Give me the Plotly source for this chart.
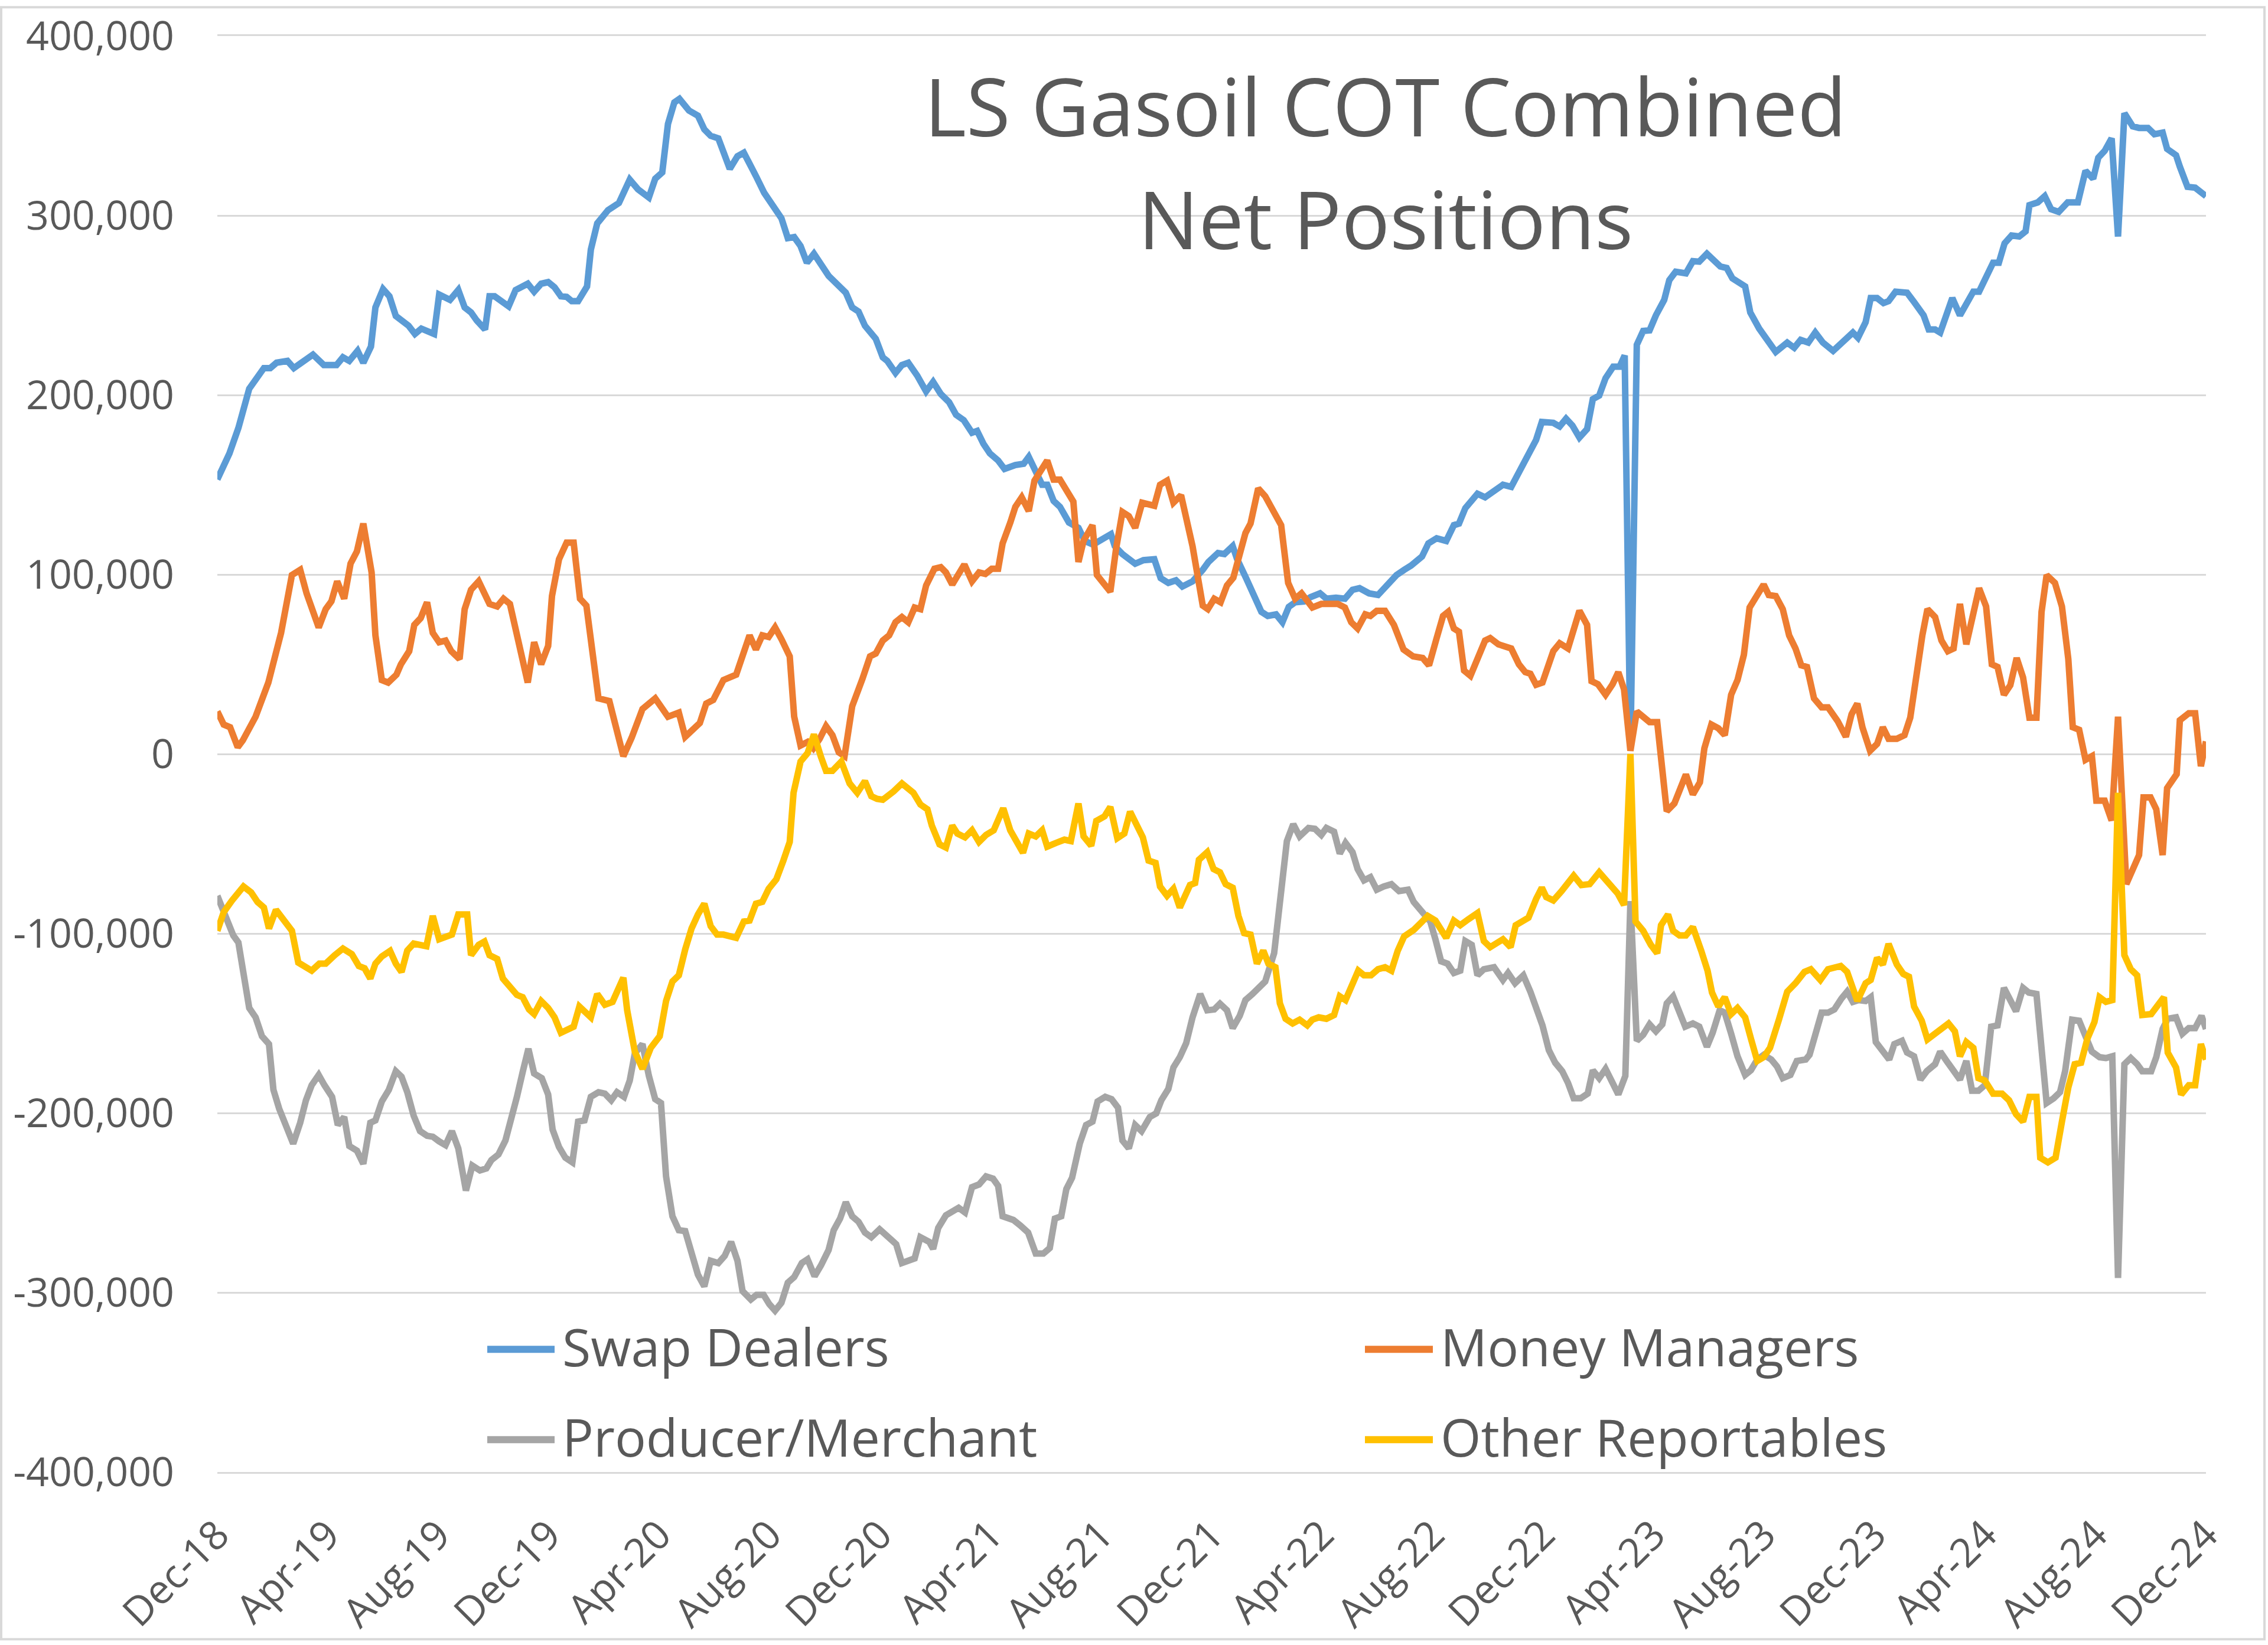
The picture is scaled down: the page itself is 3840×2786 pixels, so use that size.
import numpy as np
import plotly.graph_objects as go

# ---------------- data (weeks since first report, net positions in thousands of lots) -------------
SD_WEEK = [0, 1.9, 3.3, 5.0, 7.3, 8.3, 9.3, 11.0, 12.0, 13.7, 15.0, 16.7, 18.7, 19.7, 20.7, 22.0, 22.9, 24.1, 24.8, 26.0,
           27.0, 28.0, 30.0, 31.0, 32.0, 34.0, 34.8, 36.5, 37.8, 38.8, 39.8, 40.7, 42.0, 42.7, 43.5, 45.7, 46.8, 48.7, 49.7, 50.8,
           51.9, 52.9, 53.9, 54.8, 55.6, 56.6, 58.0, 58.6, 59.6, 61.3, 63.0, 64.7, 66.0, 67.7, 68.7, 69.8, 70.7, 71.7, 72.5, 74.0,
           75.4, 76.4, 77.4, 78.6, 80.4, 81.6, 82.6, 84.5, 85.8, 88.5, 89.5, 90.5, 91.5, 92.5, 93.6, 95.9, 97.2, 98.6, 99.6, 100.6,
           101.6, 103.3, 104.4, 105.1, 106.4, 107.4, 108.4, 109.8, 111.2, 112.3, 113.5, 114.8, 115.9, 117.1, 118.4, 119.2, 120.2, 121.2, 122.5, 123.5,
           125.2, 126.5, 127.3, 128.5, 129.4, 130.2, 131.2, 132.2, 133.6, 135.1, 136.1, 137.4, 138.7, 140.2, 140.8, 142.0, 144.0, 145.3, 147.0, 148.0,
           149.2, 150.4, 151.4, 153.0, 154.6, 155.5, 157.0, 158.0, 159.3, 160.0, 161.4, 162.8, 163.8, 164.8, 166.1, 167.1, 168.1, 169.1, 170.5, 171.5,
           173.0, 174.0, 175.5, 176.9, 178.1, 179.2, 180.7, 182.1, 183.6, 185.0, 186.2, 187.3, 189.0, 190.0, 191.3, 192.8, 194.0, 194.8, 195.8, 197.7,
           198.9, 200.3, 201.7, 203.0, 204.0, 205.7, 206.9, 207.8, 209.6, 210.6, 211.6, 212.6, 213.7, 214.9, 215.8, 216.8, 217.8, 219.0, 220.0, 220.8,
           221.7, 222.7, 223.7, 224.7, 225.7, 227.0, 227.8, 228.8, 230.4, 231.5, 232.5, 233.7, 234.8, 235.8, 236.8, 237.7, 239.7, 240.5, 241.9, 243.2,
           244.5, 246.3, 247.4, 248.4, 249.6, 250.7, 251.9, 253.5, 255.0, 256.6, 257.4, 258.6, 259.4, 260.4, 261.4, 262.2, 263.3, 265.1, 266.2, 267.7,
           268.5, 269.5, 270.3, 271.2, 272.2, 273.4, 274.6, 275.5, 276.4, 277.6, 278.6, 279.5, 280.4, 281.5, 282.7, 283.7, 284.3, 285.6, 286.7, 287.7,
           288.9, 290.3, 291.9, 293.1, 294.3, 295.1, 296.1, 297.2, 298.2, 299.2, 300.5, 301.5, 302.9, 303.9, 305.2, 305.9, 307.3, 307.9, 309.1, 310.3,
           311.3, 312.0]
SD_VAL = [153, 167.5, 181.6, 203.5, 215, 215, 218, 219, 215, 219, 222.5, 216.7, 216.7, 221, 219, 224.6, 218, 227, 248.8, 259,
          255, 244, 238.6, 234, 237, 234, 256, 253, 258.5, 248.8, 246, 241.5, 236.5, 255, 255, 249.4, 258.5, 262, 257.6, 262,
          262.9, 260, 255, 254.7, 252.3, 252.3, 260.5, 281, 295.6, 303, 307, 320, 314.6, 310, 320.5, 324, 351, 363, 365, 358.5,
          355.6, 348, 344.4, 343, 326, 333, 335, 322, 312.6, 298.5, 287.4, 288, 283, 273.7, 278.7, 266.4, 262, 257, 248.8, 246.5,
          238.6, 231.3, 221, 219, 212.3, 216.7, 218, 210.8, 202, 207.3, 200.6, 196, 189, 186, 179, 180, 172.8, 167.5, 163.5, 158.8,
          161, 161.7, 165.5, 156.7, 150, 150, 141, 137.7, 129, 126, 118.7, 116.7, 119.6, 122.5, 115.8, 111.4, 106, 108, 108.5, 98,
          95.3, 96.8, 93.3, 96.2, 102.6, 107, 112, 111.4, 115.8, 108.5, 98, 88, 79.2, 76.9, 77.8, 73.4, 82, 84.5, 85, 87.4,
          89.5, 86.5, 87.1, 86.5, 91.5, 92.4, 89.5, 88.6, 93.9, 99.7, 102.6, 105, 110, 117.3, 120.2, 118.7, 127.5, 128.4, 137, 145,
          143, 146, 150, 148.8, 155.3, 165.5, 175, 185, 184.5, 182.5, 186.8, 183, 176.3, 181, 197.7, 199.7, 209.4, 215.8, 215.8, 222,
          2, 228, 235.7, 236, 244.4, 253, 264, 268.7, 267.8, 274.6, 274.3, 278.7, 275, 271.6, 270.8, 265, 260.5, 246, 237, 229.8,
          224, 229.2, 226.3, 230.7, 229.2, 234.8, 229.2, 224.6, 229.2, 234.8, 231.9, 240.6, 254, 254, 251.2, 252.3, 257.6, 257, 251.8, 244.4,
          236.5, 236.5, 234.8, 244.4, 254, 244.4, 251.2, 257.6, 257.6, 266.4, 273.7, 273.7, 284.5, 288.9, 288.3, 291.2, 305.8, 307.3, 310.8, 303.5,
          302, 307.3, 307.3, 324.9, 320.5, 332.2, 336, 343, 288.3, 357, 349.7, 348.8, 348.8, 345.3, 346.2, 337.1, 333.6, 327.2, 316, 315.5,
          313.2, 310.8]

MM_WEEK = [0, 1.0, 2.0, 3.2, 4.0, 6.0, 8.0, 10.0, 11.7, 13.0, 14.0, 15.9, 17.0, 17.9, 18.8, 19.9, 20.9, 21.9, 22.9, 24.2,
           24.8, 25.8, 26.8, 28.1, 28.8, 30.1, 30.9, 31.9, 32.9, 33.8, 34.8, 35.8, 36.7, 38.0, 38.8, 39.8, 41.0, 41.9, 42.7, 43.9,
           44.9, 45.9, 47.2, 48.7, 49.7, 50.8, 51.9, 52.5, 53.6, 54.8, 55.9, 56.9, 57.9, 58.8, 59.8, 61.5, 62.6, 63.7, 65.0, 66.7,
           68.7, 69.6, 70.7, 72.4, 73.4, 75.7, 76.7, 77.8, 79.4, 81.4, 82.4, 83.5, 84.5, 85.5, 86.5, 87.5, 88.5, 89.8, 90.5, 91.5,
           92.6, 93.5, 94.5, 95.5, 96.5, 97.5, 98.4, 99.6, 101.2, 102.4, 103.3, 104.4, 105.4, 106.4, 107.4, 108.4, 109.4, 110.3, 111.2, 112.5,
           113.5, 114.3, 115.3, 117.2, 118.4, 119.5, 120.5, 121.5, 122.5, 123.2, 124.4, 125.2, 126.2, 127.3, 128.2, 129.2, 130.2, 131.2, 132.2, 134.3,
           134.6, 135.1, 135.9, 137.3, 138.0, 140.1, 141.0, 142.0, 143.0, 144.0, 145.1, 147.0, 147.9, 149.0, 150.0, 151.2, 153.0, 153.9, 154.6, 155.4,
           156.4, 157.4, 158.4, 159.4, 160.4, 161.3, 162.1, 163.3, 164.4, 165.8, 166.9, 168.0, 169.1, 170.1, 171.8, 173.2, 175.8, 176.9, 177.9, 178.9,
           180.1, 180.9, 181.9, 183.2, 184.6, 186.1, 187.6, 189.1, 190.1, 191.3, 192.3, 193.1, 194.0, 194.8, 195.6, 196.6, 198.0, 198.9, 199.7, 201.0,
           203.0, 204.2, 205.2, 206.0, 206.9, 207.9, 209.6, 210.6, 211.9, 212.9, 213.7, 214.9, 215.6, 216.6, 217.8, 218.9, 219.8, 220.7, 221.7, 222.7,
           223.8, 224.7, 225.9, 226.5, 227.4, 228.6, 230.4, 231.5, 232.6, 233.3, 234.4, 235.5, 236.5, 237.5, 238.5, 239.5, 240.4, 242.6, 243.4, 244.5,
           245.6, 246.6, 247.6, 248.5, 249.4, 250.5, 251.7, 252.7, 254.2, 255.5, 256.4, 257.3, 258.1, 259.3, 260.4, 261.3, 262.2, 263.5, 264.7, 265.6,
           266.5, 267.5, 268.3, 269.5, 270.5, 271.5, 272.4, 273.4, 274.4, 275.6, 276.4, 277.5, 278.4, 279.3, 280.3, 281.3, 282.3, 283.3, 284.3, 285.4,
           286.2, 287.0, 288.3, 289.4, 290.4, 291.1, 292.1, 293.1, 294.1, 294.8, 296.1, 297.2, 298.2, 299.5, 300.5, 301.5, 302.2, 303.3, 304.2, 305.2,
           305.9, 307.4, 307.9, 309.3, 310.3, 311.2, 312.0]
MM_VAL = [23.7, 16.4, 14.9, 3.8, 7.6, 20.8, 39.8, 67.5, 99.7, 102.6, 89.5, 70.5, 80.7, 85.1, 96.2, 86.5, 106.1, 112.9, 128.4, 101.2,
          66.1, 41.2, 39.8, 44.2, 50, 57.3, 71.9, 75.7, 84.5, 67.5, 62.3, 63.2, 57.3, 52.9, 80.7, 91.5, 96.2, 90.4, 83.6, 82.2,
          86.5, 83.6, 61.7, 39.8, 62.3, 50, 60.2, 88, 108.5, 117.8, 117.8, 86.5, 82.7, 58.8, 31, 29.5, 13.5, -1.2, 9.1, 25.1,
          31, 26.6, 20.8, 23.1, 9.6, 17.3, 28.1, 30.1, 41.2, 44.2, 53.5, 66.1, 58.2, 66.1, 65.2, 70.5, 64, 54.4, 20.8, 4.7,
          6.7, 3.2, 8.5, 15.5, 10.5, 0.9, -1.2, 26.6, 41.8, 54.4, 56, 63.2, 66.1, 73.4, 76.3, 73.4, 81.6, 80.7, 93.9, 103.2,
          104.1, 101.2, 94.4, 105.6, 96.2, 101.2, 100.3, 103.2, 103.2, 117.3, 128.9, 137.7, 143, 135.4, 152.3, 158.2, 163.5, 152.9, 152.9, 140.6,
          123.1, 107, 118.7, 127.5, 99.7, 90.4, 114.3, 134.8, 132.5, 126, 140, 138.3, 150, 152.3, 140, 144.2, 115.8, 96.8, 82.7, 80.7,
          86.5, 84.5, 93.9, 98.2, 111.4, 123.1, 128.4, 148, 143.6, 135.4, 127.5, 95.3, 86.5, 89.5, 81.6, 83.6, 83.6, 81.6, 73.4, 69.9,
          77.8, 76.9, 79.8, 79.8, 71.9, 58.2, 54.4, 53.5, 49.4, 64.6, 76.9, 79.2, 69.9, 68.1, 46.5, 43.6, 55.8, 63.2, 64.6, 61.1,
          58.8, 50, 45.6, 44.7, 38.6, 39.8, 57.3, 61.7, 58.8, 71.9, 79.8, 71.9, 40.6, 38.9, 33, 38.9, 45.6, 36, 1.8, 23.7,
          20.8, 17.8, 17.8, 0.3, -31.9, -27.5, -11.4, -22.5, -15.8, 3.2, 16.4, 14.3, 10.5, 33, 41.2, 55.3, 81.6, 94.4, 88.6, 88,
          80.7, 66.1, 58.8, 49.4, 48.5, 31, 26, 26, 18.4, 9.6, 22.2, 28.1, 14.9, 1.8, 5.6, 14.9, 8.5, 8.5, 10.5, 20.2,
          42.7, 66.1, 80.7, 76.3, 63.2, 57.3, 58.8, 83.6, 61.1, 79.2, 92.4, 82.2, 50, 48.5, 33, 38.3, 53.5, 42.7, 20.2, 20.2,
          79.2, 99.7, 95.3, 82.2, 52.9, 14.9, 13.5, -3.2, -1.2, -26, -26, -37.1, 20.8, -72.5, -63.3, -56.3, -24.2, -24.2, -30.8, -56.3,
          -19, -11.2, 18.8, 22.7, 22.7, -6.8, 7]

PM_WEEK = [0, 1.3, 2.5, 3.3, 4.1, 5.0, 6.0, 7.0, 8.1, 8.8, 9.7, 10.7, 11.9, 13.0, 13.9, 14.8, 15.9, 16.8, 18.0, 18.9,
           19.9, 20.7, 21.9, 22.9, 24.0, 24.8, 25.8, 26.9, 28.0, 28.9, 29.8, 30.8, 31.8, 32.9, 33.8, 34.8, 35.8, 36.8, 37.8, 39.0,
           40.0, 41.2, 42.2, 43.0, 44.1, 45.2, 46.2, 47.0, 47.9, 48.8, 49.7, 50.9, 51.9, 52.6, 53.6, 54.6, 55.7, 56.6, 57.6, 58.6,
           59.8, 60.8, 61.8, 62.7, 63.8, 64.7, 65.5, 66.7, 67.7, 68.7, 69.6, 70.4, 71.4, 72.4, 73.4, 74.4, 75.4, 76.4, 77.4, 78.6,
           79.6, 80.6, 81.6, 82.4, 83.7, 84.6, 85.7, 86.6, 87.5, 88.5, 89.5, 90.5, 91.7, 92.6, 93.7, 94.7, 95.9, 96.7, 97.7, 98.6,
           99.6, 100.6, 101.6, 102.6, 103.9, 105.7, 106.5, 107.4, 108.8, 109.4, 110.3, 111.7, 112.3, 113.1, 114.3, 115.5, 116.3, 117.3, 118.4, 119.5,
           120.6, 121.7, 122.5, 123.2, 124.9, 126.0, 127.2, 128.4, 129.6, 130.6, 131.4, 132.4, 133.2, 134.1, 134.7, 135.3, 136.3, 137.3, 138.1, 139.3,
           140.3, 141.3, 142.0, 143.0, 144.0, 145.0, 146.3, 147.3, 148.1, 149.2, 150.0, 151.0, 152.0, 153.0, 154.2, 155.3, 156.4, 157.3, 158.4, 159.3,
           160.4, 161.3, 162.4, 163.4, 164.4, 165.8, 166.8, 167.8, 168.8, 169.8, 171.2, 172.2, 173.2, 174.0, 175.2, 176.1, 177.0, 178.1, 178.9, 179.9,
           180.9, 181.9, 183.0, 184.2, 185.4, 186.8, 187.7, 188.9, 190.3, 191.1, 192.0, 193.0, 194.0, 195.0, 195.8, 196.8, 197.7, 198.7, 200.3, 201.7,
           202.5, 203.6, 204.9, 206.0, 207.0, 207.9, 208.9, 209.9, 211.0, 211.9, 212.8, 213.9, 215.0, 215.8, 216.8, 217.8, 218.9, 219.8, 220.9, 221.7,
           222.7, 223.7, 224.7, 225.7, 226.7, 227.4, 228.4, 229.4, 230.3, 231.5, 232.5, 233.7, 234.6, 235.7, 236.5, 237.5, 238.5, 239.7, 240.6, 241.6,
           242.6, 243.8, 244.7, 245.6, 246.8, 247.8, 249.2, 249.8, 250.8, 251.7, 252.7, 253.7, 254.8, 255.7, 256.6, 257.5, 258.6, 259.4, 260.2, 261.3,
           262.3, 263.1, 264.3, 265.1, 266.2, 267.2, 268.2, 269.5, 270.3, 271.4, 272.4, 273.4, 274.4, 275.3, 276.3, 277.3, 278.3, 279.3, 280.3, 281.3,
           282.2, 283.3, 284.2, 285.4, 286.2, 287.0, 288.1, 289.1, 289.9, 291.0, 292.1, 293.1, 294.1, 295.3, 296.3, 297.3, 298.2, 299.2, 300.2, 301.2,
           302.0, 303.4, 304.2, 305.2, 306.0, 307.3, 308.3, 309.3, 310.3, 311.3, 312.0]
PM_VAL = [-79, -90.7, -101.1, -105, -123.3, -141.5, -146.7, -157.2, -161.6, -187.1, -197.6, -207.5, -217.1, -205.4, -192.9, -184.5, -178.8, -184.5, -191, -206.7,
          -202.2, -218.4, -221, -228.3, -205.4, -204.1, -193.6, -187.1, -176.7, -179.8, -188.4, -201.5, -210.1, -212.7, -213.2, -215.8, -217.9, -210.1, -219.7, -243.2,
          -229.3, -232, -230.9, -226.2, -223.1, -215.3, -202.8, -191, -177.2, -164.2, -178, -180.6, -189.7, -209.3, -218.9, -224.9, -227.5, -204.8, -204.1, -191,
          -188.4, -189.2, -192.9, -188.4, -191, -181.9, -166.8, -161.6, -179.3, -192.3, -194.4, -235.3, -257.5, -265.3, -265.8, -277.8, -290.1, -296.6, -282.3, -283.6,
          -279.6, -271.8, -282.3, -299.2, -303.9, -301.3, -301.3, -306.5, -310.1, -305.7, -294.5, -291.4, -283.6, -281.5, -290.9, -284.9, -276.3, -265.3, -258.8, -249.7,
          -257.5, -260.6, -266.6, -269.2, -264.8, -270.5, -273.1, -283.6, -282.3, -281, -269.2, -271.8, -275.7, -264, -257, -254.4, -252.8, -255.4, -241.3, -239.8,
          -235.3, -236.6, -240.6, -257.5, -259.6, -262.7, -266.6, -278.3, -278.3, -275.2, -258.8, -257.5, -242.4, -236.1, -226.7, -217.1, -206.7, -204.8, -193.6, -191,
          -192.3, -197, -215.3, -219.7, -206.7, -210.1, -202.2, -200.2, -192.9, -186.6, -174.6, -168.9, -161.1, -146.7, -133.7, -142.8, -142.3, -139.1, -142.8, -152.7,
          -145.9, -137.1, -133.7, -129.8, -126.7, -111, -79, -48.5, -39.1, -45.9, -41.2, -41.7, -45.1, -41.2, -43.3, -55.5, -49.5, -54.7, -64.1, -70.4,
          -68.6, -75.6, -73.8, -72.5, -76.4, -75.6, -82.4, -87.6, -93.3, -103.2, -115.5, -116.8, -122, -120.7, -104.2, -106.3, -123.3, -119.9, -118.8, -125.9,
          -122, -127.7, -123.3, -132.4, -141.5, -151.2, -165, -172, -176.7, -183.2, -191.8, -191.8, -189.2, -176.2, -180.6, -175.4, -183.2, -189.7, -179.3, -82,
          -159.8, -156.4, -150.6, -154.5, -150.6, -138.9, -135, -143.3, -151.9, -150.1, -151.9, -163.1, -155.3, -142.8, -144.1, -155.8, -168.4, -178.8, -176.2, -170.2,
          -167.6, -170.2, -174.1, -180.6, -178.8, -171, -170.2, -167.6, -155.8, -144.1, -144.1, -142.3, -136.3, -132.4, -138.1, -137.1, -137.6, -135.5, -160.5, -165.8,
          -170.2, -161.6, -159.8, -166.3, -168.4, -181.4, -176.7, -172.8, -165.8, -171.5, -176.2, -181.4, -171, -187.6, -187.6, -184.5, -151.9, -151.2, -130.3, -137.1,
          -143.3, -130.3, -132.9, -133.7, -161.6, -194.4, -191.8, -188.4, -176.7, -148, -148.6, -158.5, -165.8, -168.9, -169.4, -168.4, -291.9, -172.8, -169.4, -172.8,
          -176.7, -176.7, -168.9, -153.2, -147.5, -146.7, -155.8, -152.7, -152.7, -145.9, -153.2]

OR_WEEK = [0, 1.0, 2.3, 4.1, 5.3, 6.3, 7.3, 8.1, 9.2, 10.5, 11.7, 12.7, 13.9, 14.8, 16.0, 17.0, 18.4, 19.7, 21.1, 22.2,
           23.1, 24.0, 24.8, 25.8, 27.1, 28.0, 28.9, 29.8, 30.8, 32.8, 33.8, 34.8, 36.8, 37.8, 39.2, 39.8, 41.0, 41.9, 42.7, 43.9,
           44.8, 45.9, 47.0, 47.9, 48.9, 49.7, 50.8, 51.9, 52.9, 53.9, 55.9, 56.8, 58.6, 59.6, 60.8, 62.0, 63.7, 64.3, 65.5, 66.7,
           68.0, 69.4, 70.4, 71.4, 72.4, 73.4, 74.4, 75.4, 76.4, 77.4, 78.4, 79.4, 81.4, 82.6, 83.5, 84.5, 85.5, 86.5, 87.7, 88.8,
           89.8, 90.4, 91.5, 92.6, 93.6, 94.7, 95.5, 96.5, 97.9, 99.2, 100.4, 101.6, 102.6, 103.5, 104.4, 106.1, 107.4, 109.2, 110.3, 111.4,
           112.1, 113.3, 114.3, 115.3, 116.1, 117.3, 118.4, 119.5, 120.6, 121.8, 123.3, 124.4, 125.3, 126.4, 127.3, 128.4, 129.4, 130.2, 131.6, 132.9,
           133.9, 135.1, 135.9, 137.1, 137.9, 139.2, 140.1, 141.2, 142.3, 143.2, 145.2, 146.1, 147.2, 147.9, 149.0, 150.0, 151.0, 152.6, 153.4, 154.0,
           155.3, 156.3, 157.3, 158.2, 159.3, 160.2, 161.1, 162.1, 163.1, 164.1, 164.9, 166.0, 166.7, 167.6, 168.7, 169.8, 171.0, 171.8, 172.8, 174.0,
           175.2, 176.1, 177.0, 178.1, 179.0, 179.9, 181.0, 182.1, 183.2, 184.2, 185.2, 186.2, 187.7, 188.9, 189.9, 191.1, 192.8, 194.0, 195.0, 196.3,
           197.7, 198.7, 199.7, 201.7, 202.9, 203.7, 205.7, 206.9, 207.8, 208.5, 209.6, 210.9, 212.8, 214.0, 215.3, 216.8, 218.0, 219.7, 220.7, 221.7,
           222.5, 223.7, 224.9, 225.9, 226.5, 227.6, 228.4, 229.4, 230.4, 231.5, 232.8, 233.8, 234.5, 235.5, 236.5, 237.5, 238.5, 239.7, 240.6, 241.6,
           242.6, 243.6, 245.0, 246.3, 247.6, 249.0, 250.0, 251.5, 252.7, 254.7, 255.7, 257.3, 258.6, 259.4, 260.4, 261.3, 262.2, 263.5, 264.5, 265.4,
           266.2, 267.4, 268.3, 269.5, 270.5, 271.6, 272.6, 273.4, 274.4, 275.5, 276.3, 277.3, 278.6, 280.0, 281.1, 282.2, 283.3, 284.3, 285.4, 286.0,
           287.2, 288.4, 289.4, 290.4, 291.4, 292.4, 293.4, 294.5, 295.3, 296.3, 297.3, 298.2, 299.2, 300.2, 301.2, 302.0, 303.4, 304.2, 305.4, 306.0,
           307.3, 308.1, 309.3, 310.3, 311.2, 312.0]
OR_VAL = [-98.5, -88.1, -81.6, -73.8, -77.1, -82.4, -85.5, -97.2, -86.8, -92.8, -98.5, -116.2, -119.4, -120.7, -116.8, -116.8, -112.1, -108.4, -111.5, -118.1,
          -119.4, -125.1, -116.8, -112.8, -109.7, -116.8, -121.4, -109.5, -105.6, -107.1, -90.2, -103.2, -100.6, -89.4, -89.4, -112.1, -106.3, -104.5, -112.1, -114.2,
          -125.1, -129.8, -134.2, -135.5, -142.3, -144.9, -137.6, -141.5, -146.7, -155.3, -151.9, -140.7, -146.7, -133.7, -139.7, -138.1, -124.6, -142.8, -165.8, -175.4,
          -163.7, -157.2, -137.6, -126.7, -123.3, -108.9, -97.2, -89.4, -83.4, -95.9, -100.6, -100.6, -102.4, -93.3, -92.8, -83.4, -82.4, -75.1, -69.8, -59.4,
          -49, -21.6, -4.2, 0.5, 10.9, -1.6, -9.4, -9.4, -4.2, -16.4, -21.6, -15.1, -23.5, -25, -25.5, -20.8, -16.4, -21.6, -28.1, -30.8,
          -39.9, -50.3, -52.1, -39.9, -44.3, -46.4, -42.5, -49, -45.1, -42.5, -30.2, -42.5, -48.5, -55, -44.3, -45.9, -42.5, -51.6, -49.5, -47.7,
          -48.5, -27.6, -45.9, -51.1, -37.3, -34.7, -29.5, -46.9, -44.3, -32.1, -46.4, -59.4, -60.7, -73.8, -79, -75.1, -85.5, -73, -71.9, -58.9,
          -54.7, -64.1, -65.9, -72.5, -74.5, -90.2, -99.8, -100.6, -116.8, -109.5, -116.8, -118.8, -138.9, -147.5, -150.1, -148, -151.2, -148, -146.7, -147.5,
          -145.4, -135, -137.1, -128.5, -120.7, -123.3, -123.3, -119.9, -118.8, -120.7, -109.5, -101.6, -98, -93.8, -90.2, -92.8, -102.4, -92.8, -95.4, -92,
          -88.6, -104.2, -107.6, -103.2, -107.6, -95.4, -91.2, -80.8, -74.5, -79.7, -81.6, -76.4, -67.8, -73, -72.5, -65.9, -70.4, -77.7, -84.2, 0,
          -93.3, -98.5, -106.3, -111, -95.4, -89.4, -98.5, -101.1, -101.1, -96.4, -109.5, -120.7, -132.9, -140.7, -135.5, -144.9, -141.5, -146.7, -158.5, -171,
          -168.9, -163.7, -148, -132.4, -127.7, -121.4, -119.9, -125.9, -119.9, -118.1, -121.4, -137.6, -127.7, -125.9, -113.6, -117.3, -105.8, -117.3, -122.5, -124.1,
          -140.7, -148.6, -159, -155.8, -153.2, -150.1, -154.5, -168.4, -160.5, -163.7, -180.6, -181.9, -189.2, -189.2, -192.9, -200.7, -204.8, -191, -191, -224.9,
          -227.5, -224.9, -204.8, -185.8, -172.8, -172, -158.5, -149.3, -135.5, -138.1, -137.1, -21.6, -112.1, -119.9, -123.3, -145.4, -144.9, -141.5, -135.5, -166.3,
          -174.6, -189.7, -184.5, -184.5, -161.6, -170.2]

SERIES_NAMES = ["Swap Dealers", "Money Managers", "Producer/Merchant", "Other Reportables"]
SERIES_COLORS = ["#5B9BD5", "#ED7D31", "#A5A5A5", "#FFC000"]

X_TICK_LABELS = ["Dec-18", "Apr-19", "Aug-19", "Dec-19", "Apr-20", "Aug-20", "Dec-20", "Apr-21", "Aug-21", "Dec-21",
                 "Apr-22", "Aug-22", "Dec-22", "Apr-23", "Aug-23", "Dec-23", "Apr-24", "Aug-24", "Dec-24"]
Y_TICKS = [400000, 300000, 200000, 100000, 0, -100000, -200000, -300000, -400000]
Y_TICK_LABELS = ["400,000", "300,000", "200,000", "100,000", "0", "-100,000", "-200,000", "-300,000", "-400,000"]

TITLE_LINES = ["LS Gasoil COT Combined", "Net Positions"]
N_WEEKS = 312

# ---------------- figure -------------
FONT = "Open Sans"
TXT = "#595959"
GRID = "#D9D9D9"

W, H = 3840, 2786
L, R, T, B = 368, 105, 51, 289
PW, PH = W - L - R, H - T - B


def px_x(x):
    return (x - L) / PW


def px_y(y):
    return (H - B - y) / PH


fig = go.Figure()
series = [(SD_WEEK, SD_VAL), (MM_WEEK, MM_VAL), (PM_WEEK, PM_VAL), (OR_WEEK, OR_VAL)]
for (wk, val), name, col in zip(series, SERIES_NAMES, SERIES_COLORS):
    fig.add_trace(go.Scatter(x=wk, y=np.array(val) * 1000, mode="lines", name=name,
                             line=dict(color=col, width=11), showlegend=False))

fig.update_layout(
    width=W, height=H,
    margin=dict(l=L, r=R, t=T, b=B, pad=0),
    paper_bgcolor="white", plot_bgcolor="white",
    font=dict(family=FONT, color=TXT),
    xaxis=dict(range=[0, N_WEEKS], tickmode="array",
               tickvals=np.linspace(0, N_WEEKS, len(X_TICK_LABELS)), ticktext=X_TICK_LABELS,
               tickangle=-45, tickfont=dict(size=68, color=TXT, family=FONT),
               showgrid=False, zeroline=False, showline=True, linecolor=GRID, linewidth=3, mirror=True,
               ticks="", ticklabelstandoff=36),
    yaxis=dict(range=[-400000, 400000], tickmode="array", tickvals=Y_TICKS, ticktext=Y_TICK_LABELS,
               tickfont=dict(size=68, color=TXT, family=FONT), showgrid=True, gridcolor=GRID, gridwidth=3,
               zeroline=False, showline=False, ticks="", ticklabelstandoff=72),
)

# title (two lines, overlaid on plot area)
title_ys = [169, 361]
for line, yc in zip(TITLE_LINES, title_ys):
    fig.add_annotation(text=line, xref="paper", yref="paper", x=px_x(2346), y=px_y(yc),
                       xanchor="center", yanchor="middle", showarrow=False,
                       font=dict(size=136, color=TXT, family=FONT))

# legend (2 x 2 grid, Excel style)
leg_rows = [2283, 2283, 2437, 2437]
leg_cols = [(825, 939, 950), (2311, 2426, 2437), (825, 939, 950), (2311, 2426, 2437)]
for name, col, yrow, (xa, xb, xt) in zip(SERIES_NAMES, SERIES_COLORS, leg_rows, leg_cols):
    fig.add_shape(type="line", xref="paper", yref="paper", x0=px_x(xa), x1=px_x(xb),
                  y0=px_y(yrow + 5), y1=px_y(yrow + 5), line=dict(color=col, width=12))
    fig.add_annotation(text=name, xref="paper", yref="paper", x=px_x(xt), y=px_y(yrow),
                       xanchor="left", yanchor="middle", showarrow=False,
                       font=dict(size=88, color=TXT, family=FONT))

# chart-area border
fig.add_shape(type="rect", xref="paper", yref="paper", layer="above",
              x0=px_x(2), x1=px_x(3834), y0=px_y(2782), y1=px_y(2),
              line=dict(color=GRID, width=4), fillcolor="rgba(0,0,0,0)")

fig.write_html("out.html", include_plotlyjs=True, config={"displayModeBar": False},
               post_script="document.body.style.margin='0';document.body.style.padding='0';")
